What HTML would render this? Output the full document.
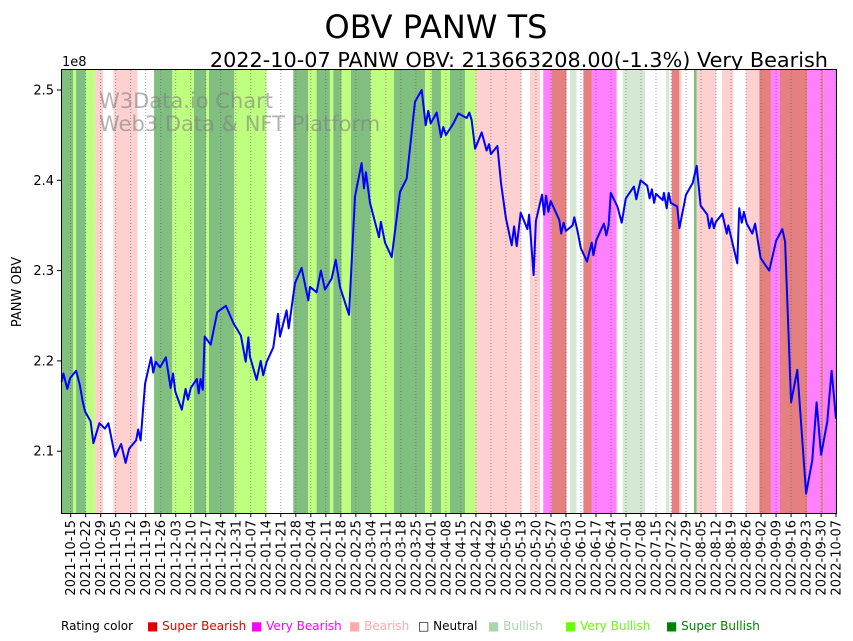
<!DOCTYPE html>
<html><head><meta charset="utf-8"><style>
body{margin:0;background:#fff;}
svg{display:block;font-family:"DejaVu Sans","Liberation Sans",sans-serif;}
</style></head><body>
<svg id="chart" width="853" height="641" xmlns="http://www.w3.org/2000/svg">
<text x="436" y="38" font-size="32" text-anchor="middle">OBV PANW TS</text>
<text x="828" y="67" font-size="20.8" text-anchor="end">2022-10-07 PANW OBV: 213663208.00(-1.3%) Very Bearish</text>
<g id="bands"></g>
<g id="grid"></g>
<text x="99" y="108" font-size="21" fill="#808080" fill-opacity="0.6">W3Data.io Chart</text>
<text x="99" y="131" font-size="21" fill="#808080" fill-opacity="0.6">Web3 Data &amp; NFT Platform</text>
<g id="series"></g>
<rect x="61.5" y="69.5" width="775" height="444" fill="none" stroke="#000" stroke-width="1"/>
<g id="yaxis"></g>
<g id="xaxis"></g>
<text x="62" y="66" font-size="13">1e8</text>
<text transform="translate(21,292) rotate(-90)" font-size="13" text-anchor="middle">PANW OBV</text>
<g id="legend"></g>
</svg>
<script>
// days offset from 2021-10-15
const bandStarts=[-4.2,1.2,2.5,7.0,11.3,15.2,19.9,31.2,38.9,47.4,57.5,63.1,64.5,76.3,91.4,103.8,110.8,114.7,120.9,122.5,126.4,130.7,139.9,150.8,165.3,168.4,172.7,176.9,183.9,189.0,210.3,214.2,218.9,220.4,224.3,231.3,232.9,236.0,239.1,243.1,254.7,257.5,267.9,277.7,279.2,280.3,283.9,285.0,290.7,292.0,301.0,303.8,309.1,315.0,321.2,326.6,330.8,343.6,350.0,351.0];
const bandRatings=['sb','vb','sb','vb','br','n','br','n','sb','vb','sb','vb','sb','vb','n','sb','vb','sb','vb','sb','vb','sb','vb','sb','vb','sb','vb','sb','vb','br','n','br','n','vbr','sbr','n','b','n','sbr','vbr','n','b','n','b','n','sbr','br','n','sb','br','n','br','n','br','sbr','vbr','sbr','vbr','sbr','vbr'];
const bandEnd=357;
const obvDays=[-4.2,-3.4,-1.6,-0.3,2.5,4.3,5.6,6.7,9.3,10.6,13.4,16.0,17.6,20.7,23.5,25.6,27.3,30.5,31.5,32.6,34.7,37.5,38.5,39.6,41.7,44.4,46.6,47.7,48.8,51.8,53.6,54.7,56.0,58.8,59.7,60.6,61.6,62.5,65.3,68.4,72.4,75.9,79.4,81.6,82.9,83.6,86.7,88.6,89.8,91.4,94.5,96.7,97.6,100.7,101.7,104.6,107.7,110.8,111.6,114.7,116.7,118.6,121.7,123.6,125.6,129.8,132.6,135.7,136.8,137.7,139.6,143.8,144.7,146.6,149.7,153.6,156.7,160.6,163.7,165.6,166.8,167.9,170.7,172.7,173.8,175.0,178.5,180.8,184.7,185.9,187.0,188.6,191.7,194.0,195.1,196.0,199.0,200.7,203.0,205.7,206.8,208.0,209.9,213.0,213.8,215.9,217.0,219.8,220.8,221.7,222.8,223.9,227.9,228.8,229.9,231.0,234.1,234.9,236.3,237.9,240.8,243.0,243.8,245.2,248.7,249.8,250.9,251.9,255.0,257.0,258.9,262.7,263.8,265.8,268.9,270.0,271.1,272.1,273.0,276.1,276.7,278.0,278.9,279.9,282.9,283.9,287.0,290.1,292.0,293.8,296.9,297.9,299.0,300.0,301.0,303.9,306.0,306.7,310.9,311.8,313.0,314.0,315.3,317.9,319.2,321.8,325.8,329.0,331.9,333.2,336.0,338.9,343.0,345.9,347.9,350.0,352.9,354.9,357.0];
const obvValues=[2.177,2.186,2.169,2.181,2.189,2.173,2.155,2.144,2.133,2.109,2.131,2.125,2.131,2.094,2.108,2.087,2.103,2.112,2.124,2.112,2.175,2.204,2.187,2.199,2.193,2.204,2.170,2.186,2.166,2.146,2.169,2.157,2.170,2.180,2.164,2.180,2.168,2.227,2.218,2.254,2.261,2.242,2.228,2.199,2.226,2.205,2.179,2.200,2.184,2.199,2.215,2.252,2.227,2.256,2.236,2.286,2.303,2.267,2.282,2.276,2.300,2.279,2.291,2.312,2.282,2.251,2.382,2.419,2.391,2.409,2.375,2.337,2.354,2.331,2.315,2.387,2.402,2.487,2.500,2.461,2.477,2.463,2.475,2.448,2.459,2.450,2.463,2.474,2.469,2.475,2.467,2.435,2.453,2.433,2.440,2.429,2.438,2.397,2.358,2.328,2.349,2.327,2.364,2.346,2.362,2.295,2.355,2.384,2.362,2.383,2.365,2.377,2.356,2.341,2.353,2.344,2.350,2.359,2.345,2.325,2.310,2.331,2.317,2.334,2.352,2.339,2.350,2.386,2.371,2.353,2.380,2.393,2.379,2.400,2.394,2.380,2.390,2.375,2.385,2.378,2.386,2.369,2.386,2.375,2.371,2.347,2.384,2.397,2.416,2.372,2.362,2.347,2.358,2.347,2.354,2.363,2.341,2.350,2.308,2.369,2.353,2.365,2.352,2.341,2.352,2.314,2.300,2.333,2.346,2.332,2.154,2.190,2.053,2.090,2.154,2.096,2.133,2.189,2.136];
const yTicks=[2.1,2.2,2.3,2.4,2.5];
const xTickLabels=[];
(function(){const d0=new Date(Date.UTC(2021,9,15));for(let i=0;i<=51;i++){const d=new Date(d0.getTime()+i*7*864e5);xTickLabels.push(d.toISOString().slice(0,10));}})();
const legendLabels=['Super Bearish','Very Bearish','Bearish','Neutral','Bullish','Very Bullish','Super Bullish'];
const legendColors=['#e00000','#ff00ff','#ffaaaa','#ffffff','#aad4aa','#66ff00','#008000'];

const colors={sb:'#80bf80',vb:'#bfff80',b:'#d5e8d4',n:'#ffffff',br:'#ffd0d0',vbr:'#ff80ff',sbr:'#e58080'};
const NS='http://www.w3.org/2000/svg';
const X=d=>Math.min(836,Math.max(61.7,70.7+d*2.144));
const Y=v=>90+(2.5-v)*903;
function mk(t,a,p){const e=document.createElementNS(NS,t);for(const k in a)e.setAttribute(k,a[k]);p.appendChild(e);return e;}

const gB=document.getElementById('bands');
bandStarts.forEach((s,i)=>{const e=i+1<bandStarts.length?bandStarts[i+1]:bandEnd;
 const r=mk('rect',{x:X(s),y:70,width:Math.max(0,X(e)-X(s)),height:443.5,fill:colors[bandRatings[i]]},gB);
 
 });

const gG=document.getElementById('grid'),gX=document.getElementById('xaxis');
xTickLabels.forEach((lab,i)=>{const x=X(i*7);
 mk('line',{x1:x,x2:x,y1:70,y2:513,stroke:'#555',"stroke-width":0.8,"stroke-dasharray":"1,2","stroke-opacity":0.7},gG);
 mk('line',{x1:x,x2:x,y1:513.5,y2:517,stroke:'#000'},gX);
 const t=mk('text',{transform:`translate(${x+4.5},520) rotate(-90)`,"font-size":13,"text-anchor":"end"},gX);
 t.textContent=lab;
 
 });

const gY=document.getElementById('yaxis');
yTicks.forEach(v=>{const y=Y(v);
 mk('line',{x1:57,x2:61.5,y1:y,y2:y,stroke:'#000'},gY);
 const t=mk('text',{x:54,y:y+4.5,"font-size":13,"text-anchor":"end"},gY);
 t.textContent=v.toFixed(1);
 
 });

const gS=document.getElementById('series');
const p=mk('polyline',{points:obvDays.map((d,i)=>X(d).toFixed(1)+','+Y(obvValues[i]).toFixed(1)).join(' '),fill:'none',stroke:'#0000ff',"stroke-width":2,"stroke-linejoin":"round"},gS);



const gL=document.getElementById('legend');
const lt=mk('text',{x:61,y:630,"font-size":12},gL);lt.textContent='Rating color';


const lx=[147,251,349,418,488,565,666];
legendLabels.forEach((l,i)=>{
 const t=mk('text',{x:lx[i],y:630,"font-size":12,fill:legendColors[i]==='#ffffff'?'#000':legendColors[i]},gL);
 const s=mk('tspan',{fill:legendColors[i]==='#ffffff'?'#000':legendColors[i]},t);
 s.textContent=legendColors[i]==='#ffffff'?'□ ':'■ ';
 const s2=mk('tspan',{},t);s2.textContent=l;
 
 });
</script>
</body></html>
